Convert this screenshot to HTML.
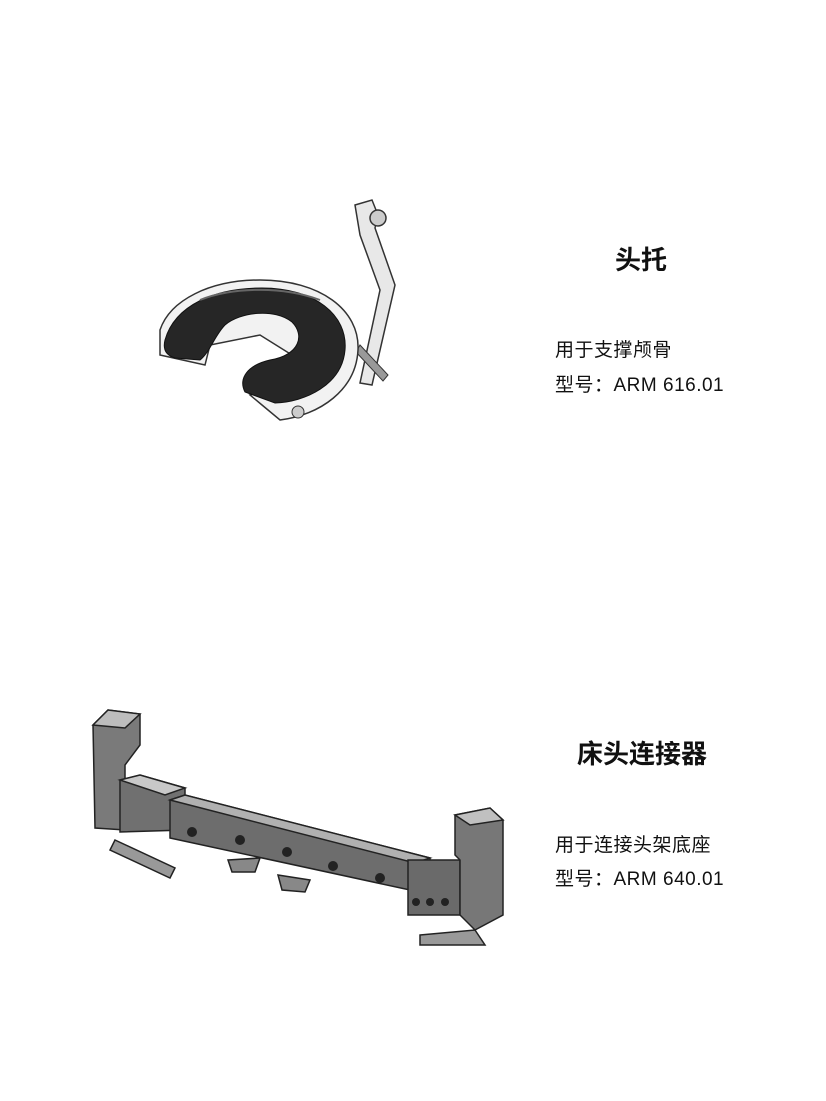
<!DOCTYPE html>
<html><head><meta charset="utf-8"><style>
html,body{margin:0;padding:0;background:#fff;}
body{width:826px;height:1101px;position:relative;overflow:hidden;font-family:"Liberation Sans","Noto Sans CJK SC",sans-serif;color:#111;}
.t{position:absolute;white-space:nowrap;}
.h{font-size:26px;font-weight:bold;}
.p{font-size:19px;letter-spacing:0.5px;}
svg{position:absolute;left:0;top:0;}
</style></head><body>
<svg width="826" height="1101" viewBox="0 0 826 1101">
<path d="M355 205 L372 200 L378 215 L375 228 L395 285 L372 385 L360 383 L380 290 L360 235 Z" fill="#e8e8e8" stroke="#333" stroke-width="1.5"/>
<path d="M360 345 L388 375 L383 381 L356 352 Z" fill="#999" stroke="#333"/>
<circle cx="378" cy="218" r="8" fill="#ccc" stroke="#333" stroke-width="1.5"/>
<path d="M160 330 C170 300 210 280 260 280 C320 280 360 310 358 350 C356 390 320 415 280 420 L262 405 L250 395 L300 380 L300 360 L260 335 L210 345 L205 365 L160 355 Z" fill="#f2f2f2" stroke="#333" stroke-width="1.5"/>
<path d="M165 340 C175 305 215 288 262 288 C315 288 348 315 345 350 C342 385 305 402 275 403 L245 392 C238 378 248 365 270 360 C300 355 305 335 292 322 C275 308 240 312 225 325 C215 335 210 352 200 360 L175 358 C165 355 163 348 165 340 Z" fill="#262626" stroke="#111"/>
<path d="M200 300 C230 288 280 285 320 300" stroke="#666" stroke-width="2" fill="none"/>
<circle cx="298" cy="412" r="6" fill="#ccc" stroke="#333"/>
<g stroke="#222" stroke-width="1.5">
<path d="M93 725 L108 710 L140 714 L140 745 L125 765 L125 830 L95 828 Z" fill="#7a7a7a"/>
<path d="M108 710 L140 714 L125 728 L93 725 Z" fill="#bdbdbd"/>
<path d="M120 780 L140 775 L185 788 L185 830 L120 832 Z" fill="#707070"/>
<path d="M120 780 L140 775 L185 788 L165 795 Z" fill="#c8c8c8"/>
<path d="M170 800 L185 795 L430 858 L430 885 L410 890 L170 838 Z" fill="#6d6d6d"/>
<path d="M170 800 L185 795 L430 858 L415 863 Z" fill="#b0b0b0"/>
<path d="M408 860 L460 860 L460 915 L408 915 Z" fill="#6a6a6a"/>
<path d="M455 815 L490 808 L503 820 L503 915 L475 930 L460 915 L460 860 L455 855 Z" fill="#777"/>
<path d="M455 815 L490 808 L503 820 L470 825 Z" fill="#c0c0c0"/>
<path d="M115 840 L175 868 L170 878 L110 850 Z" fill="#999"/>
<path d="M420 935 L475 930 L485 945 L420 945 Z" fill="#999"/>
<path d="M228 860 L260 858 L255 872 L232 872 Z" fill="#888"/>
<path d="M278 875 L310 880 L305 892 L282 890 Z" fill="#888"/>
</g>
<g fill="#222"><circle cx="192" cy="832" r="5"/><circle cx="240" cy="840" r="5"/><circle cx="287" cy="852" r="5"/><circle cx="333" cy="866" r="5"/><circle cx="380" cy="878" r="5"/>
<circle cx="416" cy="902" r="4"/><circle cx="430" cy="902" r="4"/><circle cx="445" cy="902" r="4"/></g>
</svg>
<div class="t h" style="left:615px;top:240px;">头托</div>
<div class="t p" style="left:555px;top:335px;">用于支撑颅骨</div>
<div class="t p" style="left:555px;top:370px;">型号：ARM 616.01</div>
<div class="t h" style="left:577px;top:734px;">床头连接器</div>
<div class="t p" style="left:555px;top:830px;">用于连接头架底座</div>
<div class="t p" style="left:555px;top:864px;">型号：ARM 640.01</div>
</body></html>
